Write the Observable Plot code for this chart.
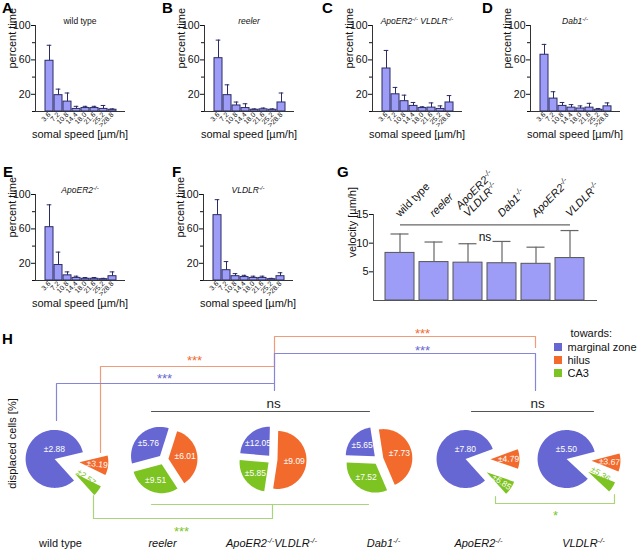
<!DOCTYPE html>
<html><head><meta charset="utf-8">
<script src="https://cdn.jsdelivr.net/npm/d3@7"></script>
<script src="https://cdn.jsdelivr.net/npm/@observablehq/plot@0.6"></script>
<style>
body{margin:0;background:#fff;overflow:hidden;font-family:"Liberation Sans",Arial,Helvetica,sans-serif;}
#root{position:relative;width:640px;height:550px;overflow:hidden;background:#fff;}
.panel{position:absolute;}
.panel svg{max-width:none !important;}
.letter{position:absolute;font-weight:bold;font-size:15px;line-height:16px;color:#000;}
.lg{position:absolute;font-size:11px;color:#111;}
</style></head><body><div id="root"></div><script>
// ---------- DATA ----------
const speedBins = ["3.6","7.2","10.8","14.4","18.0","21.6","25.2",">28.8"];
const pctWT = [59,19,11.5,3,4,4,3,2];      const errWT = [18,7,10,3,2,2,4,1];
const pctReeler = [62,19,7,4,2,2.5,2,10.5]; const errReeler = [21,12,4,5,1,1.5,1,11];
const pctDKO = [50,20,12,6.5,4,4.5,3,10.5]; const errDKO = [21,8,7,4,1.5,5.5,3.5,8];
const pctDab1 = [66,15,6.5,4.5,3.5,4.5,2,6];  const errDab1 = [12,8,4,3.5,3,5,1.5,4];
const pctApo = [62,18,6,3,2,2,1.5,5];        const errApo = [26,15,4,2,1.5,1.5,1,5];
const pctVL = [76,12,5,4,3,3,1.5,5];         const errVL = [18,10,3,2,2,2,1,4];

const genotypes = ["wild type","reeler","ApoER2-/- VLDLR-/-","Dab1-/-","ApoER2-/-","VLDLR-/-"];
const velMean = [8.3,6.7,6.6,6.5,6.4,7.4];
const velSD   = [3.3,3.5,3.3,3.8,2.9,4.8];
const velLabels = ["wild type","reeler","ApoER2-/-\nVLDLR-/-","Dab1-/-","ApoER2-/-","VLDLR-/-"];

const directions = ["marginal zone","hilus","CA3"];
const pieMZ    = [83,34,24,22,81,84];
const pieHilus = [11,36,52,46,11,10];
const pieCA3   = [6,30,24,32,8,6];
const semMZ    = [2.88,5.76,12.05,5.65,7.80,5.50];
const semHilus = [3.19,6.01,9.09,7.73,4.79,3.67];
const semCA3   = [2.57,9.51,5.85,7.52,6.85,5.36];
const pieNames = ["wild type","reeler","ApoER2-/-VLDLR-/-","Dab1-/-","ApoER2-/-","VLDLR-/-"];

// ---------- STYLE / LAYOUT ----------
const FONT = '"Liberation Sans", Arial, Helvetica, sans-serif';
const NAVY = "#2b2b66", LAV = "#9d9df7";
const C_MZ = "#6767d4", C_HI = "#f26a2c", C_CA = "#7dc322";
const L_MZ = "#8686d8", L_HI = "#ee9c7a", L_CA = "#a9d47c";
const root = document.getElementById("root");

function place(el, left, top){
  const d = document.createElement("div"); d.className = "panel";
  d.style.left = left + "px"; d.style.top = top + "px";
  d.appendChild(el); root.appendChild(d); return d;
}
function letter(t, left, top){
  const d = document.createElement("div"); d.className = "letter";
  d.textContent = t; d.style.left = left + "px"; d.style.top = top + "px"; root.appendChild(d);
}
const SVGNS = "http://www.w3.org/2000/svg";
function supify(svg){
  svg.querySelectorAll("text, tspan").forEach(el => {
    if (el.children.length) return;
    const t = el.textContent;
    if (!t.includes("-/-")) return;
    const parts = t.split("-/-");
    el.textContent = "";
    parts.forEach((p, i) => {
      if (p) el.appendChild(document.createTextNode(p));
      if (i < parts.length - 1) {
        const s = document.createElementNS(SVGNS, "tspan");
        s.setAttribute("baseline-shift", "super");
        s.setAttribute("font-size", "70%");
        s.textContent = "-/-";
        el.appendChild(s);
      }
    });
  });
  return svg;
}

function smallPanel(title, italic, vals, errs){
  const data = speedBins.map((b, i) => ({bin: b, v: vals[i], e: errs[i]}));
  return supify(Plot.plot({
    width: 160, height: 145, marginTop: 25, marginBottom: 34, marginLeft: 35, marginRight: 36,
    style: {fontFamily: FONT, background: "transparent", overflow: "visible", color: "#111"},
    x: {domain: speedBins, paddingInner: 0.08, paddingOuter: 0.5, align: 0.55, axis: null, label: null},
    y: {domain: [0, 100], axis: null, label: null},
    marks: [
      Plot.barY(data, {x: "bin", y: "v", fill: LAV, stroke: NAVY, strokeWidth: 1}),
      Plot.ruleX(data, {x: "bin", y1: "v", y2: d => d.v + d.e, stroke: NAVY, strokeWidth: 1}),
      Plot.tickY(data, {x: "bin", y: d => d.v + d.e, stroke: NAVY, strokeWidth: 1, insetLeft: 1.7, insetRight: 1.7}),
      Plot.frame({anchor: "left", stroke: "#333"}),
      Plot.frame({anchor: "bottom", stroke: "#333"}),
      Plot.axisY({ticks: [20, 60, 100], tickSize: 4, tickPadding: 1, fontSize: 10.5, label: null}),
      Plot.axisY({ticks: [0, 40, 80], tickSize: 3, tickFormat: () => "", label: null}),
      Plot.axisX({tickRotate: -45, tickSize: 0, tickPadding: 2, fontSize: 7, label: null}),
      Plot.text([title], {frameAnchor: "top", dy: -8, fontSize: 8.5, fontStyle: italic ? "italic" : "normal"}),
      Plot.text(["percent time"], {frameAnchor: "left", dx: -23, rotate: -90, fontSize: 11}),
      Plot.text(["somal speed [µm/h]"], {frameAnchor: "bottom", dy: 26, fontSize: 11})
    ]
  }));
}

place(smallPanel("wild type", false, pctWT, errWT), 0, 0);
place(smallPanel("reeler", true, pctReeler, errReeler), 169, 0);
place(smallPanel("ApoER2-/- VLDLR-/-", true, pctDKO, errDKO), 337, 0);
place(smallPanel("Dab1-/-", true, pctDab1, errDab1), 495, 0);
place(smallPanel("ApoER2-/-", true, pctApo, errApo), 0, 169);
place(smallPanel("VLDLR-/-", true, pctVL, errVL), 168, 169);

// ---------- G ----------
{
  const data = genotypes.map((g, i) => ({g, m: velMean[i], s: velSD[i], lab: velLabels[i]}));
  const nsLevel = d3.max(data, d => d.m + d.s) + 1;
  const svg = Plot.plot({
    width: 320, height: 150, marginTop: 54, marginBottom: 10, marginLeft: 53, marginRight: 44,
    style: {fontFamily: FONT, background: "transparent", overflow: "visible", color: "#111"},
    x: {domain: genotypes, paddingInner: 0.147, paddingOuter: 0.28, axis: null, label: null},
    y: {domain: [0, 15], axis: null, label: null},
    marks: [
      Plot.barY(data, {x: "g", y: "m", fill: LAV, stroke: "#555", strokeWidth: 1}),
      Plot.ruleX(data, {x: "g", y1: "m", y2: d => d.m + d.s, stroke: "#666", strokeWidth: 1.2}),
      Plot.tickY(data, {x: "g", y: d => d.m + d.s, stroke: "#666", strokeWidth: 1.2, insetLeft: 5.5, insetRight: 5.5}),
      Plot.frame({anchor: "left", stroke: "#555"}),
      Plot.frame({anchor: "bottom", stroke: "#555"}),
      Plot.axisY({ticks: [5, 10, 15], tickSize: 4, tickPadding: 1, fontSize: 11, label: null}),
      Plot.text(["velocity [µm/h]"], {frameAnchor: "left", dx: -21, rotate: -90, fontSize: 11}),
      Plot.text(data.filter(d => d.g === "wild type"), {x: "g", text: "lab", frameAnchor: "top", dy: 3, rotate: -45, textAnchor: "start", lineAnchor: "bottom", fontSize: 11}),
      Plot.text(data.filter(d => d.g !== "wild type"), {x: "g", text: "lab", frameAnchor: "top", dy: 3, rotate: -45, textAnchor: "start", lineAnchor: "bottom", fontSize: 11, fontStyle: "italic"}),
      Plot.link([nsLevel], {x1: () => genotypes[0], x2: () => genotypes[5], y1: d => d, y2: d => d, stroke: "#666", strokeWidth: 1.2}),
      Plot.text(["ns"], {frameAnchor: "top", dy: 18, fontSize: 12})
    ]
  });
  place(supify(svg), 320, 160);
}

// ---------- H ----------
{
  const pieCx = [56, 163, 272, 378, 467, 568];
  const pieCy = 139, R = 29;
  const startDeg = [-222, -105, -85, -88, -222, -227];
  const rows = [], labs = [];
  pieCx.forEach((cx, i) => {
    const fr = [pieMZ[i], pieHilus[i], pieCA3[i]];
    const sem = [semMZ[i], semHilus[i], semCA3[i]];
    const tot = d3.sum(fr);
    const dominant = d3.max(fr) / tot > 0.7;
    let a = startDeg[i];
    directions.forEach((cat, k) => {
      const frac = fr[k] / tot, span = frac * 360;
      const a0 = a, a1 = a + span; a = a1;
      const mid = (a0 + a1) / 2 * Math.PI / 180;
      const ex = dominant ? (k === 0 ? 2 : 23) : 5;
      const ax = cx + ex * Math.sin(mid), ay = pieCy - ex * Math.cos(mid);
      const id = i + "-" + k;
      rows.push({id, cat, x: ax, y: ay});
      const n = Math.max(4, Math.round(span / 3));
      for (let t = 0; t <= n; t++) {
        const ang = (a0 + (a1 - a0) * t / n) * Math.PI / 180;
        rows.push({id, cat, x: ax + R * Math.sin(ang), y: ay - R * Math.cos(ang)});
      }
      rows.push({id, cat, x: ax, y: ay});
      let lx, ly, rot = 0, fill = "white";
      if (frac > 0.7) { lx = cx - 0.07 * R; ly = pieCy - 0.36 * R; }
      else {
        const rr = frac < 0.15 ? 0.62 : 0.58;
        lx = ax + rr * R * Math.sin(mid); ly = ay - rr * R * Math.cos(mid);
        if (frac < 0.15) {
          rot = mid * 180 / Math.PI - 90;
          if (frac < 0.07) {
            fill = C_CA;
            lx += 5 * Math.cos(mid); ly -= 5 * Math.sin(mid) + 3;
          }
        }
      }
      labs.push({x: lx, y: ly, rot, fill, text: "±" + sem[k].toFixed(2)});
    });
  });

  // brackets (annotation layout)
  const brackets = [
    {c: L_HI, pts: [[100,132],[100,46],[274,46],[274,16],[535,16],[535,27]]},
    {c: L_MZ, pts: [[56,100],[56,63],[274,63]]},
    {c: L_MZ, pts: [[274,70],[274,33],[535,33],[535,70]]},
    {c: L_CA, pts: [[93,175],[93,198],[272,198],[272,184]]},
    {c: L_CA, pts: [[151,184],[368,184]]},
    {c: L_CA, pts: [[495,176],[495,183],[614,183],[614,174]]},
    {c: "#555", pts: [[151,91],[369,91]]},
    {c: "#555", pts: [[471,91],[593,91]]}
  ];
  const brRows = [];
  brackets.forEach((b, j) => b.pts.forEach(p => brRows.push({id: j, c: b.c, x: p[0], y: p[1]})));
  const sig = [
    {t: "***", x: 422, y: 13, c: C_HI}, {t: "***", x: 422, y: 30, c: C_MZ},
    {t: "***", x: 194, y: 40, c: C_HI}, {t: "***", x: 164, y: 58, c: C_MZ},
    {t: "***", x: 181, y: 211, c: C_CA}, {t: "*", x: 555, y: 195, c: C_CA}
  ];
  const nameX = [60, 162, 271, 383, 478, 583];
  const names = pieNames.map((n, i) => ({n, x: nameX[i], it: i > 0}));

  const marks = [];
  brackets.forEach((b, j) => marks.push(Plot.line(brRows.filter(r => r.id === j), {x: "x", y: "y", stroke: b.c, strokeWidth: 1.2})));
  marks.push(
    Plot.line(rows, {x: "x", y: "y", z: "id", fill: "cat", stroke: null}),
    Plot.text(labs.filter(d => d.fill === "white"), {x: "x", y: "y", text: "text", rotate: "rot", fill: "white", fontSize: 8.5}),
    Plot.text(labs.filter(d => d.fill !== "white"), {x: "x", y: "y", text: "text", rotate: "rot", fill: C_CA, fontSize: 8.5}),
    ...sig.map(s => Plot.text([s.t], {x: () => s.x, y: () => s.y, fill: s.c, fontSize: 13})),
    Plot.text(["ns", "ns"], {x: (d, i) => [273, 537][i], y: () => 83, fontSize: 13.5, fill: "#222"}),
    Plot.text(["displaced cells [%]"], {x: () => 12, y: () => 123, rotate: -90, fontSize: 11}),
    Plot.text(names.filter(d => !d.it), {x: "x", y: () => 223, text: "n", fontSize: 11}),
    Plot.text(names.filter(d => d.it), {x: "x", y: () => 223, text: "n", fontSize: 11, fontStyle: "italic"}),
    Plot.text(["towards:"], {x: () => 570, y: () => 13, textAnchor: "start", fontSize: 11})
  );
  const svg = Plot.plot({
    width: 640, height: 230, margin: 0,
    style: {fontFamily: FONT, background: "transparent", overflow: "visible", color: "#111"},
    x: {type: "identity", axis: null}, y: {type: "identity", axis: null},
    color: {domain: directions, range: [C_MZ, C_HI, C_CA]},
    marks
  });
  place(supify(svg), 0, 320);

  const lg = Plot.legend({color: {domain: directions, range: [C_MZ, C_HI, C_CA]}, legend: "swatches", columns: 1, swatchSize: 8,
    style: {fontFamily: FONT, fontSize: "11px"}});
  const lgDiv = place(lg, 554, 341);
  lgDiv.className = "panel lg";
}

letter("A", 2, 0); letter("B", 162, 0); letter("C", 322, 0); letter("D", 482, 0);
letter("E", 3, 164); letter("F", 172, 164); letter("G", 337, 164); letter("H", 2, 331);
</script></body></html>
